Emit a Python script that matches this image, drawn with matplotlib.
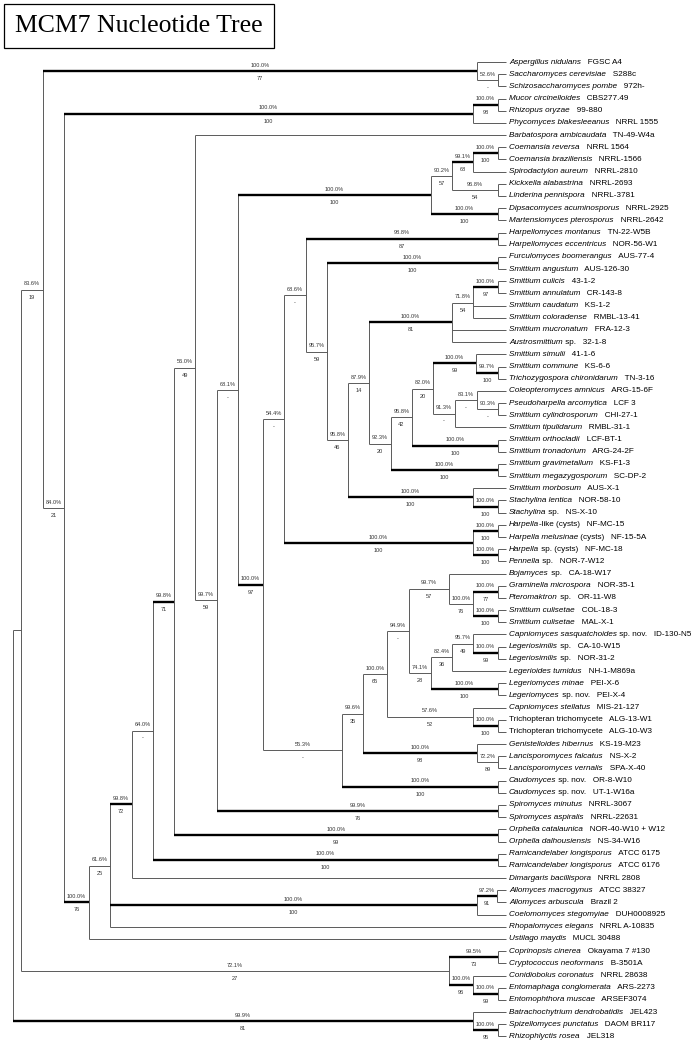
import matplotlib
matplotlib.use("Agg")
import matplotlib.pyplot as plt

# ---------------- data ----------------
TITLE = "MCM7 Nucleotide Tree"

# Tree in a Newick-like form. Leaves: 'italic part|roman part'.
# Internal nodes: (...)[posterior|bootstrap|node depth|T=strong]
TREE = """
(
 (
  (
   ('Aspergillus nidulans|  FGSC A4',
    ('Saccharomyces cerevisiae|  S288c','Schizosaccharomyces pombe|  972h-')[52.6%|-|498|]
   )[100.0%|77|477|T],
   (
    (('Mucor circinelloides|  CBS277.49','Rhizopus oryzae|  99-880')[100.0%|98|498|T],
     'Phycomyces blakesleeanus|  NRRL 1555')[100.0%|100|473|T],
    (
     (
      (
       (
        (
         ('Barbatospora ambicaudata|  TN-49-W4a',
          (
           (
            (
             (
              (('Coemansia reversa|  NRRL 1564','Coemansia braziliensis|  NRRL-1566')[100.0%|100|498|T],
               'Spirodactylon aureum|  NRRL-2810')[99.1%|68|473|T],
              ('Kickxella alabastrina|  NRRL-2693','Linderina pennispora|  NRRL-3781')[96.8%|54|498|]
             )[90.2%|57|452|],
             ('Dipsacomyces acuminosporus|  NRRL-2925','Martensiomyces pterosporus|  NRRL-2642')[100.0%|100|498|T]
            )[100.0%|100|431|T],
            (
             (
              (
               ('Harpellomyces montanus|  TN-22-W5B','Harpellomyces eccentricus|  NOR-56-W1')[98.8%|87|498|T],
               (
                ('Furculomyces boomerangus|  AUS-77-4','Smittium angustum|  AUS-126-30')[100.0%|100|498|T],
                (
                 (
                  (
                   (('Smittium culicis|  43-1-2','Smittium annulatum|  CR-143-8')[100.0%|97|498|T],
                    'Smittium caudatum|  KS-1-2','Smittium coloradense|  RMBL-13-41')[71.8%|54|473|],
                   'Smittium mucronatum|  FRA-12-3','Austrosmittium| sp.  32-1-8'
                  )[100.0%|81|452|T],
                  (
                   (
                    (
                     ('Smittium simulii|  41-1-6',
                      ('Smittium commune|  KS-6-6','Trichozygospora chironidarum|  TN-3-16')[99.7%|100|498|T]
                     )[100.0%|99|476|T],
                     (
                      ('Coleopteromyces amnicus|  ARG-15-6F',
                       ('Pseudoharpella arcomytica|  LCF 3','Smittium cylindrosporum|  CHI-27-1')[90.3%|-|498|]
                      )[83.1%|-|477|],
                      'Smittium tipulidarum|  RMBL-31-1'
                     )[91.3%|-|455|]
                    )[82.0%|20|433|],
                    ('Smittium orthocladii|  LCF-BT-1','Smittium tronadorium|  ARG-24-2F')[100.0%|100|498|T]
                   )[95.8%|42|412|],
                   ('Smittium gravimetallum|  KS-F1-3','Smittium megazygosporum|  SC-DP-2')[100.0%|100|498|T]
                  )[92.3%|20|391|]
                 )[87.9%|14|369|],
                 ('Smittium morbosum|  AUS-X-1',
                  ('Stachylina lentica|  NOR-58-10','Stachylina| sp.  NS-X-10')[100.0%|100|498|T]
                 )[100.0%|100|473|T]
                )[95.8%|46|348|]
               )[95.7%|59|327|]
              )[68.6%|-|306|],
              (('Harpella|-like (cysts)  NF-MC-15','Harpella melusinae| (cysts)  NF-15-5A')[100.0%|100|498|T],
               ('Harpella| sp. (cysts)  NF-MC-18','Pennella| sp.  NOR-7-W12')[100.0%|100|498|T]
              )[100.0%|100|473|T]
             )[54.4%|-|284|],
             (
              (
               (
                (
                 ('Bojamyces| sp.  CA-18-W17',
                  (('Graminella microspora|  NOR-35-1','Pteromaktron| sp.  OR-11-W8')[100.0%|77|498|T],
                   ('Smittium culisetae|  COL-18-3','Smittium culisetae|  MAL-X-1')[100.0%|100|498|T]
                  )[100.0%|76|473|]
                 )[99.7%|57|449|],
                 (
                  (
                   ('Capniomyces sasquatchoides| sp. nov.  ID-130-N5',
                    ('Legeriosimilis| sp.  CA-10-W15','Legeriosimilis| sp.  NOR-31-2')[100.0%|99|498|T]
                   )[95.7%|49|473|],
                   'Legerioides tumidus|  NH-1-M869a'
                  )[82.4%|36|452|],
                  ('Legeriomyces minae|  PEI-X-6','Legeriomyces| sp. nov.  PEI-X-4')[100.0%|100|498|T]
                 )[74.1%|28|431|]
                )[94.9%|-|409|],
                ('Capniomyces stellatus|  MIS-21-127',
                 ('|Trichopteran trichomycete  ALG-13-W1','|Trichopteran trichomycete  ALG-10-W3')[100.0%|100|498|T]
                )[57.6%|52|473|]
               )[100.0%|65|387|],
               ('Genistelloides hibernus|  KS-19-M23',
                ('Lancisporomyces falcatus|  NS-X-2','Lancisporomyces vernalis|  SPA-X-40')[72.2%|89|498|]
               )[100.0%|98|477|T]
              )[99.6%|35|363|],
              ('Caudomyces| sp. nov.  OR-8-W10','Caudomyces| sp. nov.  UT-1-W16a')[100.0%|100|498|T]
             )[55.3%|-|342|]
            )[100.0%|97|263|T]
           )[68.1%|-|238|],
           ('Spiromyces minutus|  NRRL-3067','Spiromyces aspiralis|  NRRL-22631')[99.9%|76|498|T]
          )[99.7%|59|217|]
         )[56.0%|49|195|],
         ('Orphella catalaunica|  NOR-40-W10 + W12','Orphella dalhousiensis|  NS-34-W16')[100.0%|99|498|T]
        )[99.8%|71|174|T],
        ('Ramicandelaber longisporus|  ATCC 6175','Ramicandelaber longisporus|  ATCC 6176')[100.0%|100|498|T]
       )[64.0%|-|153|],
       'Dimargaris bacillispora|  NRRL 2808'
      )[99.8%|72|132|T],
      (('Allomyces macrogynus|  ATCC 38327','Allomyces arbuscula|  Brazil 2')[97.2%|91|497|T],
       'Coelomomyces stegomyiae|  DUH0008925')[100.0%|100|477|T],
      'Rhopalomyces elegans|  NRRL A-10835'
     )[61.6%|25|110|],
     'Ustilago maydis|  MUCL 30488'
    )[100.0%|76|89|T]
   )[84.0%|21|64|]
  )[83.6%|19|43|],
  (('Coprinopsis cinerea|  Okayama 7 #130','Cryptococcus neoformans|  B-3501A')[99.5%|73|498|T],
   ('Conidiobolus coronatus|  NRRL 28638',
    ('Entomaphaga conglomerata|  ARS-2273','Entomophthora muscae|  ARSEF3074')[100.0%|99|498|T]
   )[100.0%|96|473|T]
  )[72.1%|27|449|]
 )[||21|],
 ('Batrachochytrium dendrobatidis|  JEL423',
  ('Spizellomyces punctatus|  DAOM BR117','Rhizophlyctis rosea|  JEL318')[100.0%|95|498|T]
 )[99.9%|81|473|T]
)[||13|]
"""
TIP_DEPTH = 506


# ---------------- parse ----------------
def parse(s):
    s = "".join(s.split("\n"))
    pos = [0]

    def ws():
        while pos[0] < len(s) and s[pos[0]] == " ":
            pos[0] += 1

    def node():
        ws()
        if s[pos[0]] == "(":
            pos[0] += 1
            kids = [node()]
            ws()
            while s[pos[0]] == ",":
                pos[0] += 1
                kids.append(node())
                ws()
            assert s[pos[0]] == ")"
            pos[0] += 1
            ws()
            assert s[pos[0]] == "["
            end = s.index("]", pos[0])
            pct, bs, x, w = s[pos[0] + 1:end].split("|")
            pos[0] = end + 1
            return {"children": kids, "pct": pct, "bs": bs,
                    "x": float(x), "thick": w == "T"}
        assert s[pos[0]] == "'"
        end = s.index("'", pos[0] + 1)
        name = s[pos[0] + 1:end]
        pos[0] = end + 1
        it, rm = name.split("|")
        return {"ital": it, "rom": rm.replace("  ", "   "), "x": TIP_DEPTH}

    return node()


root = parse(TREE)
leaves = []


def layout(n):
    if "children" not in n:
        n["y"] = len(leaves)
        leaves.append(n)
        return n["y"]
    ys = [layout(c) for c in n["children"]]
    n["y"] = (ys[0] + ys[-1]) / 2.0
    return n["y"]


layout(root)

# ---------------- figure ----------------
W, H = 697, 1047
fig = plt.figure(figsize=(W / 100, H / 100), dpi=100)
ax = fig.add_axes([0, 0, 1, 1])
ax.set_axis_off()
TOP_PX, STEP_PX = 62.0, 12.18
ax.set_xlim(0, W)
ax.set_ylim((H - TOP_PX) / STEP_PX, -TOP_PX / STEP_PX)

THIN = dict(color="#5a5a5a", lw=0.7, solid_capstyle="butt", zorder=2)
THICK = dict(color="black", lw=1.7, solid_capstyle="butt", zorder=3)
LABFONT = dict(family="Liberation Sans", fontsize=5.9, color="black")
SUPFONT = dict(family="Liberation Sans", fontsize=4.1, color="#333333")


def draw(n):
    kids = n["children"]
    ax.plot([n["x"], n["x"]], [kids[0]["y"], kids[-1]["y"]], **THIN)
    for c in kids:
        st = THICK if c.get("thick") else THIN
        ax.plot([n["x"], c["x"]], [c["y"], c["y"]], **st)
        if "children" in c:
            mx = (n["x"] + c["x"]) / 2.0
            if c["pct"]:
                ax.annotate(c["pct"], (mx, c["y"]), xytext=(0, 4.2),
                            textcoords="offset points", ha="center",
                            va="center", **SUPFONT)
            if c["bs"]:
                ax.annotate(c["bs"], (mx, c["y"]), xytext=(0, -5.4),
                            textcoords="offset points", ha="center",
                            va="center", **SUPFONT)
            draw(c)


draw(root)

for lf in leaves:
    x0 = TIP_DEPTH + 3
    if lf["ital"]:
        t1 = ax.text(x0, lf["y"], lf["ital"], style="italic", ha="left",
                     va="center", **LABFONT)
        ax.annotate(lf["rom"], xy=(1, 0), xycoords=t1, ha="left",
                    va="bottom", **LABFONT)
    else:
        ax.text(x0, lf["y"], lf["rom"], ha="left", va="center", **LABFONT)

fig.text(139 / W, 1 - 26 / H, TITLE, family="Liberation Serif", fontsize=18.5,
         ha="center", va="center",
         bbox=dict(boxstyle="square,pad=0.42", fc="white", ec="black", lw=0.9))

fig.savefig("out.png", dpi=100)
